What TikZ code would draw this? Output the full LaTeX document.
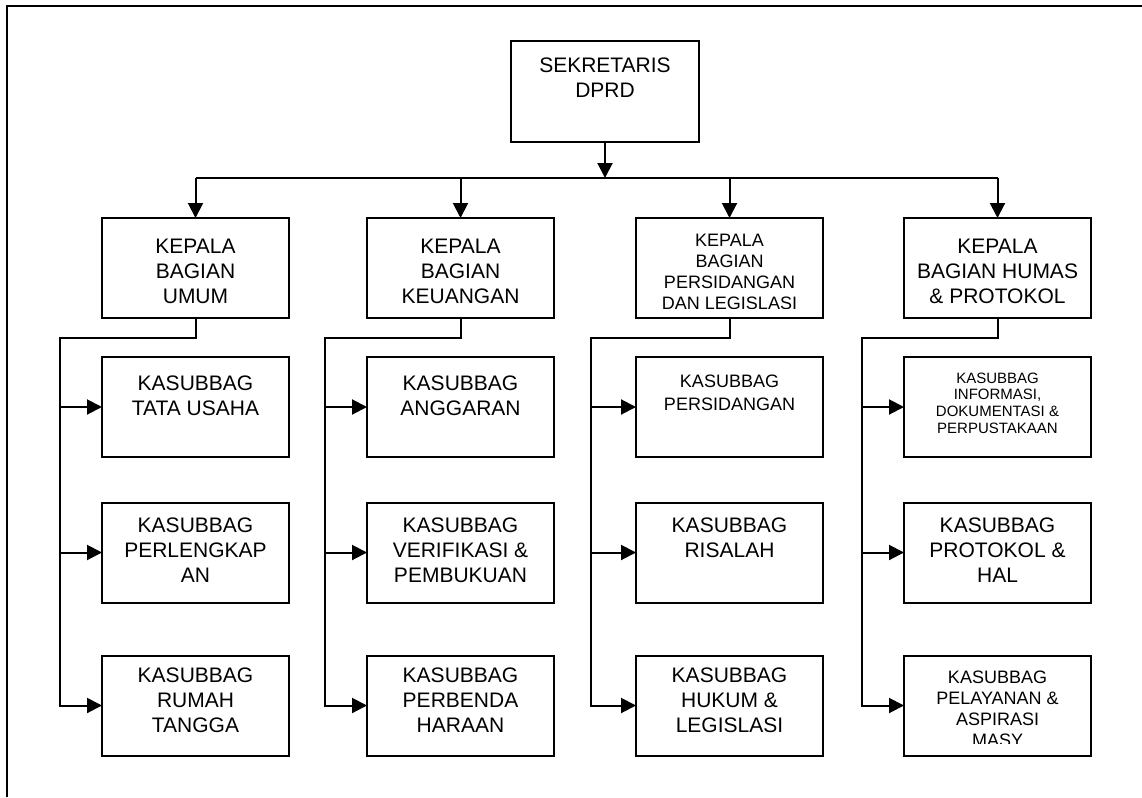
\documentclass[tikz,border=0pt]{standalone}
\usepackage{fontspec}
\setmainfont{Liberation Sans}
\usetikzlibrary{arrows.meta}
\begin{document}
\begin{tikzpicture}[x=1pt,y=-1pt,
  box/.style={draw, line width=2pt, minimum width=187pt, minimum height=100pt, inner sep=0pt, outer sep=0pt},
  txt/.style={anchor=north, align=center, inner sep=0pt},
  fa/.style={font=\fontsize{21}{25}\selectfont},
  fb/.style={font=\fontsize{18}{21}\selectfont},
  fc/.style={font=\fontsize{15}{16.7}\selectfont},
  conn/.style={line width=2pt},
  arr/.style={line width=2pt, -{Triangle[length=15pt,width=15pt]}},
  frame/.style={line width=2.2pt},
]
\useasboundingbox (0,0) rectangle (1142,797);
% outer frame
\draw[frame] (7,797) -- (7,6) -- (1142,6);

% level 1
\node[box, minimum width=188pt, minimum height=101pt] (sek) at (605,91.5) {};
\node[txt,fa] (tsek) at ([yshift=-16.5pt]sek.north) {SEKRETARIS\\DPRD};

% level 2
\node[box] (k1) at (195.5,268) {};
\node[box] (k2) at (460.5,268) {};
\node[box] (k3) at (729.5,268) {};
\node[box] (k4) at (997.5,268) {};
\node[txt,fa] (tk1) at ([yshift=-20.5pt]k1.north) {KEPALA\\BAGIAN\\UMUM};
\node[txt,fa] (tk2) at ([yshift=-20.5pt]k2.north) {KEPALA\\BAGIAN\\KEUANGAN};
\begin{scope}
\clip ([xshift=2pt]k3.north west) rectangle ([xshift=-2pt,yshift=10pt]k3.south east);
\node[txt,fb] (tk3) at ([yshift=-15.6pt]k3.north) {KEPALA\\BAGIAN\\PERSIDANGAN\\DAN LEGISLASI};
\end{scope}
\node[txt,fa] (tk4) at ([yshift=-20.5pt]k4.north) {KEPALA\\BAGIAN HUMAS\\\& PROTOKOL};

% sub boxes
\foreach \c/\x in {1/195.5,2/460.5,3/729.5,4/997.5}{
  \node[box] (s\c1) at (\x,407) {};
  \node[box] (s\c2) at (\x,552.5) {};
  \node[box] (s\c3) at (\x,705.5) {};
}
% column 1
\node[txt,fa] (ts11) at ([yshift=-18.5pt]s11.north) {KASUBBAG\\TATA USAHA};
\node[txt,fa] (ts12) at ([yshift=-15.5pt]s12.north) {KASUBBAG\\PERLENGKAP\\AN};
\node[txt,fa] (ts13) at ([yshift=-12.5pt]s13.north) {KASUBBAG\\RUMAH\\TANGGA};
% column 2
\node[txt,fa] (ts21) at ([yshift=-18.5pt]s21.north) {KASUBBAG\\ANGGARAN};
\node[txt,fa] (ts22) at ([yshift=-15.5pt]s22.north) {KASUBBAG\\VERIFIKASI \&\\PEMBUKUAN};
\node[txt,fa] (ts23) at ([yshift=-12.5pt]s23.north) {KASUBBAG\\PERBENDA\\HARAAN};
% column 3
\node[txt,font=\fontsize{18}{23}\selectfont] (ts31) at ([yshift=-17.6pt]s31.north) {KASUBBAG\\PERSIDANGAN};
\node[txt,fa] (ts32) at ([yshift=-15.5pt]s32.north) {KASUBBAG\\RISALAH};
\node[txt,fa] (ts33) at ([yshift=-12.5pt]s33.north) {KASUBBAG\\HUKUM \&\\LEGISLASI};
% column 4
\node[txt,fc] (ts41) at ([yshift=-15.6pt]s41.north) {KASUBBAG\\INFORMASI,\\DOKUMENTASI \&\\PERPUSTAKAAN};
\node[txt,fa] (ts42) at ([yshift=-15.5pt]s42.north) {KASUBBAG\\PROTOKOL \&\\HAL};
\begin{scope}
\clip ([xshift=2pt]s43.north west) rectangle ([xshift=-2pt,yshift=12pt]s43.south east);
\node[txt,fb] (ts43) at ([yshift=-15.6pt]s43.north) {KASUBBAG\\PELAYANAN \&\\ASPIRASI\\MASY};
\end{scope}

% connectors level 1 -> level 2
\coordinate (bus) at (605,178);
\draw[arr] (sek.south) -- (bus);
\draw[conn] (k1.north |- bus) -- (k4.north |- bus);
\foreach \k in {k1,k2,k3,k4}{
  \draw[arr] (\k.north |- bus) -- (\k.north);
}

% connectors level 2 -> sub boxes
\coordinate (c1) at (60,338);
\coordinate (c2) at (325,338);
\coordinate (c3) at (591,338);
\coordinate (c4) at (862,338);
\foreach \c in {1,2,3,4}{
  \draw[arr] (k\c.south) |- (c\c) |- (s\c3.west);
  \draw[arr] (c\c |- s\c1.west) -- (s\c1.west);
  \draw[arr] (c\c |- s\c2.west) -- (s\c2.west);
}
\end{tikzpicture}
\end{document}
